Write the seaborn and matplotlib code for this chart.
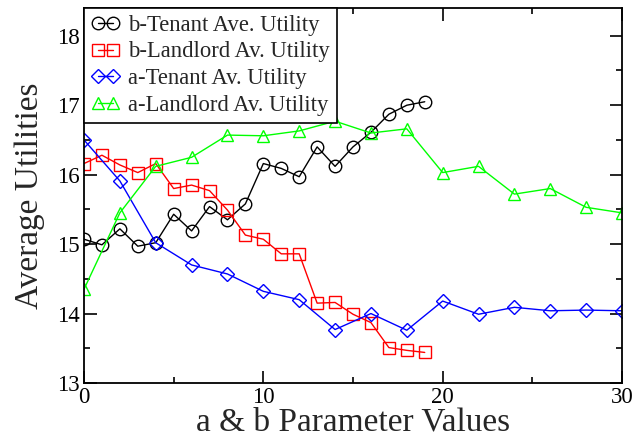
import matplotlib
matplotlib.use("Agg")
import matplotlib.pyplot as plt
import seaborn as sns
import pandas as pd
from matplotlib.ticker import MultipleLocator

# Data
b_x = list(range(20))
b_tenant = [15.07, 14.99, 15.22, 14.97, 15.02, 15.43, 15.19, 15.54, 15.35, 15.58,
            16.16, 16.09, 15.97, 16.40, 16.12, 16.40, 16.61, 16.87, 17.00, 17.05]
b_landlord = [16.16, 16.28, 16.14, 16.03, 16.16, 15.80, 15.85, 15.77, 15.49, 15.13,
              15.07, 14.86, 14.86, 14.15, 14.16, 13.99, 13.87, 13.51, 13.47, 13.44]
a_x = list(range(0, 31, 2))
a_tenant = [16.50, 15.91, 15.02, 14.70, 14.57, 14.32, 14.20, 13.77, 14.00, 13.76,
            14.18, 13.99, 14.09, 14.04, 14.05, 14.04]
a_landlord = [14.35, 15.45, 16.12, 16.25, 16.57, 16.56, 16.63, 16.77, 16.60, 16.66,
              16.03, 16.12, 15.72, 15.80, 15.53, 15.45]

labels = ["b-Tenant Ave. Utility", "b-Landlord Av. Utility",
          "a-Tenant Av. Utility", "a-Landlord Av. Utility"]
xlabel = "a & b Parameter Values"
ylabel = "Average Utilities"

sns.set_style("ticks")
plt.rcParams['font.family'] = ['Liberation Serif', 'DejaVu Serif']
plt.rcParams['mathtext.fontset'] = 'stix'

fig = plt.figure(figsize=(6.34, 4.36), dpi=100)
ax = fig.add_axes([84/634, 53/436, 538/634, 375/436])

series = [
    (b_x, b_tenant, labels[0], "black", "o", 9),
    (b_x, b_landlord, labels[1], "#ff0000", "s", 8.5),
    (a_x, a_tenant, labels[2], "#0000ff", "D", 7),
    (a_x, a_landlord, labels[3], "#00ff00", "^", 9),
]
for xs, ys, lab, col, mk, ms in series:
    df = pd.DataFrame({"x": xs, "y": ys})
    sns.lineplot(data=df, x="x", y="y", ax=ax, color=col, marker=mk,
                 markersize=ms, markerfacecolor="none", markeredgecolor=col,
                 markeredgewidth=1.0, linewidth=1.0, label=lab)

ax.set_xlim(0, 30)
ax.set_ylim(13, 18.4)
ax.xaxis.set_major_locator(MultipleLocator(10))
ax.xaxis.set_minor_locator(MultipleLocator(5))
ax.yaxis.set_major_locator(MultipleLocator(1))
ax.yaxis.set_minor_locator(MultipleLocator(0.5))
ax.tick_params(which="both", direction="in", top=True, right=True,
               labelsize=16.5, width=1.2, colors="black", pad=3)
ax.tick_params(which="major", length=9)
ax.tick_params(which="minor", length=4.5)
for s in ax.spines.values():
    s.set_linewidth(1.3)
    s.set_color("black")

ax.set_xlabel(xlabel, fontsize=24, labelpad=-1)
ax.set_ylabel(ylabel, fontsize=24, labelpad=9)

leg = ax.legend(loc="upper left", borderaxespad=0, numpoints=2, fontsize=16.3,
                frameon=True, fancybox=False, framealpha=1, edgecolor="black",
                handlelength=1.3, handletextpad=0.35, labelspacing=0.25,
                borderpad=0.3)
leg.get_frame().set_linewidth(1.2)

fig.savefig("out.png", dpi=100)
